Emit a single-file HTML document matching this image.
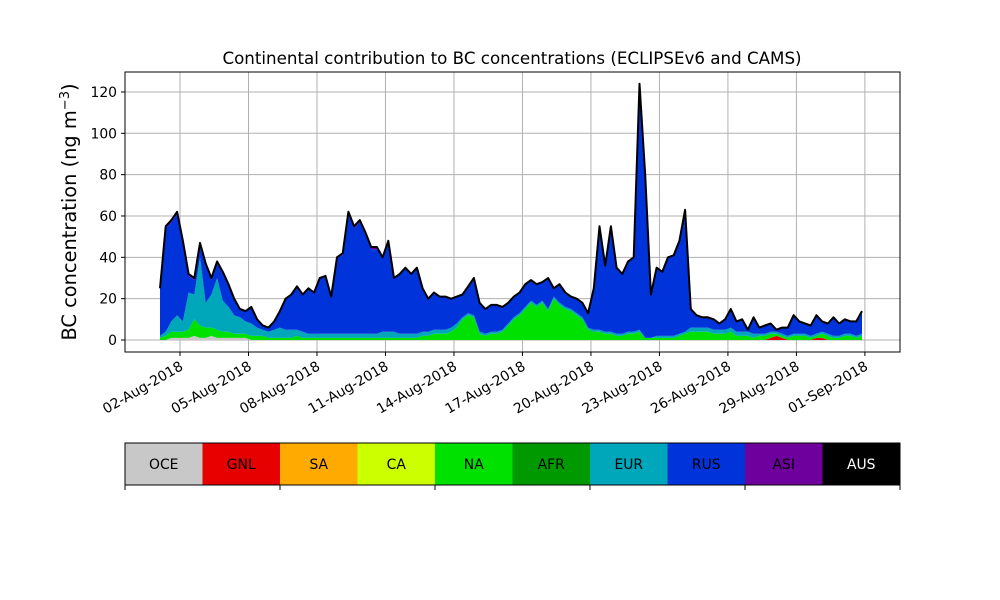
<!DOCTYPE html>
<html><head><meta charset="utf-8"><style>
body{margin:0;background:#fff;}
svg{display:block;font-family:"DejaVu Sans","Liberation Sans",sans-serif;}
</style></head><body>
<svg id="chart" width="1000" height="600" viewBox="0 0 1000 600">
<text x="512" y="64" font-size="16.7" text-anchor="middle">Continental contribution to BC concentrations (ECLIPSEv6 and CAMS)</text>
<g id="grid"></g>
<g id="areas"></g>
<g id="axes"></g>
<text transform="translate(76,212) rotate(-90)" font-size="19.4" text-anchor="middle">BC concentration (ng m<tspan dy="-7" font-size="13">−3</tspan><tspan dy="7">)</tspan></text>
<g id="cbar"></g>
</svg>
<script>
const regions = ["OCE","GNL","SA","CA","NA","AFR","EUR","RUS","ASI","AUS"];
const colors = ["#c8c8c8","#e60000","#ffaa00","#ccff00","#00e100","#009a00","#00a6b9","#0033d9","#6e009e","#000000"];
const xTickLabels = ["02-Aug-2018","05-Aug-2018","08-Aug-2018","11-Aug-2018","14-Aug-2018","17-Aug-2018","20-Aug-2018","23-Aug-2018","26-Aug-2018","29-Aug-2018","01-Sep-2018"];
const xTickDays = [0,3,6,9,12,15,18,21,24,27,30];
const yTicks = [0,20,40,60,80,100,120];
const startDay = -0.875, stepDay = 0.25;
const total = [25,55,58,62,48,32,30,47,37,30,38,33,27,20,15,14,16,10,7,6,9,14,20,22,26,22,25,23,30,31,21,40,42,62,55,58,52,45,45,40,48,30,32,35,32,35,25,20,23,21,21,20,21,22,26,30,18,15,17,17,16,18,21,23,27,29,27,28,30,25,27,23,21,20,18,13,25,55,36,55,35,32,38,40,124,80,22,35,33,40,41,48,63,15,12,11,11,10,8,10,15,9,10,5,11,6,7,8,5,6,6,12,9,8,7,12,9,8,11,8,10,9,9,14];
const naVals = [1,2,3,3,3,4,8,6,5,4,4,3,3,2,2,2,2,2,2,1,1,1,1,1,2,1,1,1,1,1,1,1,1,1,1,1,1,1,1,1,1,1,1,1,1,1,2,2,3,3,3,4,6,10,12,11,3,2,3,3,4,7,10,12,15,18,16,18,14,20,17,15,14,12,10,5,4,4,3,3,2,2,3,3,4,1,1,1,1,1,1,2,3,4,4,4,4,3,3,3,4,2,2,2,1,2,2,2,1,1,1,2,2,2,1,1,2,2,1,1,2,2,1,2];
const eurVals = [1,2,5,8,5,18,12,33,12,16,25,15,12,9,8,6,6,4,3,3,4,5,4,4,3,3,2,2,2,2,2,2,2,2,2,2,2,2,2,3,3,3,2,2,2,2,2,2,2,2,2,2,2,1,1,1,1,1,1,1,1,1,1,1,1,1,1,1,1,1,1,1,1,1,1,1,1,1,1,1,1,1,1,1,1,0,0,1,1,1,1,1,1,2,2,2,2,2,2,2,2,2,2,2,2,1,1,1,1,1,1,1,1,1,1,1,1,1,1,1,1,1,1,1];
const oceVals = [0,0,1,1,1,1,2,1,1,2,1,1,1,1,1,1];
const gnlVals = [0,0,0,0,0,0,0,0,0,0,0,0,0,0,0,0,0,0,0,0,0,0,0,0,0,0,0,0,0,0,0,0,0,0,0,0,0,0,0,0,0,0,0,0,0,0,0,0,0,0,0,0,0,0,0,0,0,0,0,0,0,0,0,0,0,0,0,0,0,0,0,0,0,0,0,0,0,0,0,0,0,0,0,0,0,0,0,0,0,0,0,0,0,0,0,0,0,0,0,0,0,0,0,0,0,0,0,1,2,1,0,0,0,0,0,1,1,0,0,0,0,0,0,0];
const asiVals = [0,1,1,1,1,1,1,1,1,1,1,1,1,1,0,0,0,0,0,0,0,0,0,0,0,0,0,0,0,0,0,0,1,1,1,1,1,1,1];

const X0=180, PXDAY=22.83, Y0=340, PXUNIT=2.067;
const xs = d => X0 + d*PXDAY;
const ys = v => Y0 - v*PXUNIT;
const NS="http://www.w3.org/2000/svg";
function mk(tag, attrs, parent){const e=document.createElementNS(NS,tag);for(const k in attrs)e.setAttribute(k,attrs[k]);parent.appendChild(e);return e;}
const grid=document.getElementById('grid'), areas=document.getElementById('areas'), axes=document.getElementById('axes'), cbar=document.getElementById('cbar');
const PL=125, PR=900, PT=72, PB=352;

xTickDays.forEach(d=>{const l=mk('line',{x1:xs(d),x2:xs(d),y1:PT,y2:PB,stroke:'#b0b0b0','stroke-width':1},grid);

});
yTicks.forEach(v=>{const l=mk('line',{x1:PL,x2:PR,y1:ys(v),y2:ys(v),stroke:'#b0b0b0','stroke-width':1},grid);

});

const N = total.length;
const get = (a,i)=> (a[i]||0);
const series = {OCE:oceVals,GNL:gnlVals,NA:naVals,EUR:eurVals,ASI:asiVals};
const comp = regions.map(r=>{
  if(r==='RUS') return total.map((t,i)=>Math.max(0,t-get(oceVals,i)-get(gnlVals,i)-get(naVals,i)-get(eurVals,i)-get(asiVals,i)));
  const a=series[r]; return total.map((t,i)=>a?get(a,i):0);
});
let base = new Array(N).fill(0);
regions.forEach((r,k)=>{
  const top = base.map((b,i)=>b+comp[k][i]);
  if(comp[k].some(v=>v>0)){
    let d='';
    for(let i=0;i<N;i++) d+=(i?'L':'M')+xs(startDay+i*stepDay).toFixed(1)+','+ys(top[i]).toFixed(1);
    for(let i=N-1;i>=0;i--) d+='L'+xs(startDay+i*stepDay).toFixed(1)+','+ys(base[i]).toFixed(1);
    const p=mk('path',{d:d+'Z',fill:colors[k]},areas);
    
    
  }
  base=top;
});
let ld='';
for(let i=0;i<N;i++) ld+=(i?'L':'M')+xs(startDay+i*stepDay).toFixed(1)+','+ys(total[i]).toFixed(1);
const tl=mk('path',{d:ld,fill:'none',stroke:'#000','stroke-width':2,'stroke-linejoin':'round'},areas);



const fr=mk('rect',{x:PL,y:PT,width:PR-PL,height:PB-PT,fill:'none',stroke:'#000','stroke-width':1},axes);


yTicks.forEach(v=>{
  mk('line',{x1:PL-4,x2:PL,y1:ys(v),y2:ys(v),stroke:'#000'},axes);
  const t=mk('text',{x:PL-8,y:ys(v)+5,'font-size':13.9,'text-anchor':'end'},axes);
  t.textContent=v;
  
  
});
xTickDays.forEach((d,i)=>{
  mk('line',{x1:xs(d),x2:xs(d),y1:PB,y2:PB+4,stroke:'#000'},axes);
  const t=mk('text',{transform:`translate(${xs(d)+4},${PB+17}) rotate(-30)`,'font-size':13.9,'text-anchor':'end'},axes);
  t.textContent=xTickLabels[i];
  
  
});

const CW=(PR-PL)/regions.length, CY=443, CH=42;
regions.forEach((r,k)=>{
  const rc=mk('rect',{x:PL+k*CW,y:CY,width:CW+0.5,height:CH,fill:colors[k]},cbar);
  
  
  const t=mk('text',{x:PL+k*CW+CW/2,y:CY+CH/2+5,'font-size':13.9,'text-anchor':'middle',fill:r==='AUS'?'#fff':'#000'},cbar);
  t.textContent=r;
  
  
});
mk('rect',{x:PL,y:CY,width:PR-PL,height:CH,fill:'none',stroke:'#000'},cbar);
for(let k=0;k<=regions.length;k+=2){mk('line',{x1:PL+k*CW,x2:PL+k*CW,y1:CY+CH,y2:CY+CH+5,stroke:'#000'},cbar);}
</script>
</body></html>
